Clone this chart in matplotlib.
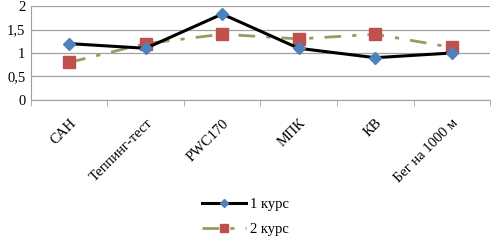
import matplotlib.pyplot as plt
import numpy as np

categories = ['САН', 'Теппинг-тест', 'PWC170', 'МПК', 'КВ', 'Бег на 1000 м']
kurs1 = [1.2, 1.1, 1.83, 1.1, 0.9, 1.0]
kurs2 = [0.8, 1.2, 1.4, 1.3, 1.4, 1.12]
yticks = [0, 0.5, 1, 1.5, 2]
ytick_labels = ['0', '0,5', '1', '1,5', '2']

plt.rcParams['font.family'] = ['Liberation Serif', 'DejaVu Serif']

fig = plt.figure(figsize=(4.91, 2.42), dpi=100)
ax = fig.add_axes([0.063, 0.587, 0.935, 0.388])

x = np.arange(len(categories))
ax.plot(x, kurs1, color='black', lw=2.2, marker='D', markersize=6,
        markerfacecolor='#4F81BD', markeredgecolor='#4F81BD', label='1 курс', zorder=3)
ax.plot(x, kurs2, color='#9a9a60', lw=2, dashes=[6, 4, 1.5, 4], marker='s', markersize=8,
        markerfacecolor='#C0504D', markeredgecolor='#C0504D', label='2 курс', zorder=2)

ax.set_xlim(-0.5, len(categories) - 0.5)
ax.set_ylim(0, 2)
ax.set_yticks(yticks)
ax.set_yticklabels(ytick_labels, fontsize=10.5)
ax.yaxis.grid(True, color='#a0a0a0', lw=0.9)
ax.set_axisbelow(True)

ax.set_xticks(x)
ax.set_xticklabels(categories, rotation=45, ha='right', rotation_mode='anchor', fontsize=10.5)
ax.set_xticks(np.arange(len(categories) + 1) - 0.5, minor=True)
ax.tick_params(axis='x', which='major', length=0, pad=12)
ax.tick_params(axis='x', which='minor', length=4, color='#a0a0a0')
ax.tick_params(axis='y', length=0, pad=4)

for s in ['top', 'right']:
    ax.spines[s].set_visible(False)
ax.spines['left'].set_color('#a0a0a0')
ax.spines['bottom'].set_color('#a0a0a0')

fig.legend(loc='center', bbox_to_anchor=(0.5, 0.105), frameon=False, fontsize=10.5,
           handlelength=3.0, labelspacing=0.8, handletextpad=0.3, markerscale=0.65)

fig.savefig('out.png', dpi=100)
